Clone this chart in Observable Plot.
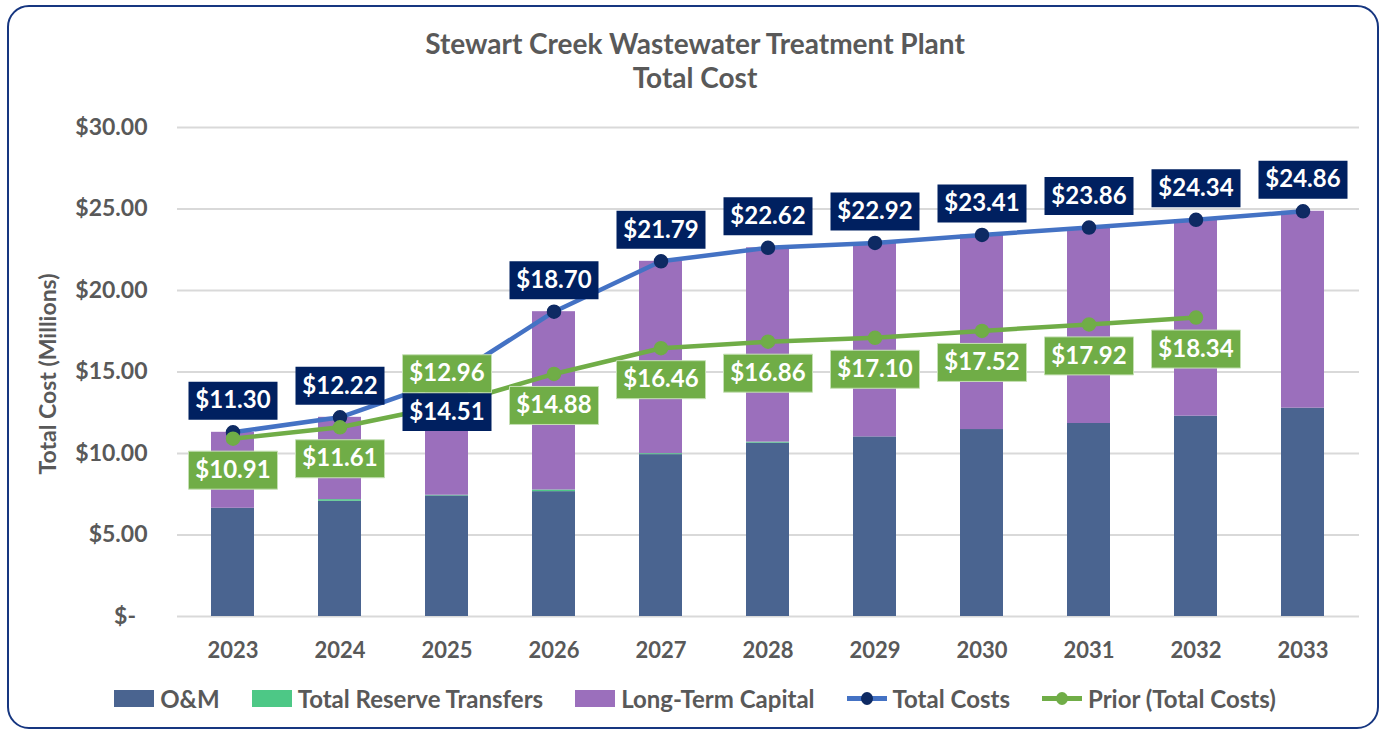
<!DOCTYPE html>
<html>
<head>
<meta charset="utf-8">
<script src="https://cdn.jsdelivr.net/npm/d3@7"></script>
<script src="https://cdn.jsdelivr.net/npm/@observablehq/plot@0.6"></script>
<style>
  html, body { margin: 0; padding: 0; background: #fff; }
  body { width: 1390px; height: 732px; position: relative; overflow: hidden; font-family: Lato, "Open Sans", sans-serif; }
  #frame { position: absolute; left: 7px; top: 5px; width: 1372px; height: 724px; border: 2px solid #163680; border-radius: 22px; box-sizing: border-box; }
  #title { position: absolute; left: 0; width: 1390px; top: 26px; text-align: center; font-weight: bold; font-size: 28px; line-height: 34px; color: #595959; }
  #ylabel { position: absolute; left: 47px; top: 374px; transform: translate(-50%, -50%) rotate(-90deg); white-space: nowrap; font-weight: bold; font-size: 23px; color: #595959; }
  #chart { position: absolute; left: 0; top: 100px; }
  #legend { position: absolute; left: 0; width: 1390px; top: 684px; display: flex; justify-content: center; gap: 32px; font-weight: bold; font-size: 24px; color: #595959; }
  .item { display: flex; align-items: center; gap: 6px; }
  .sw { width: 40px; height: 17px; }
  .ln { width: 40px; height: 17px; position: relative; }
  .ln .bar { position: absolute; left: 0; right: 0; top: 6px; height: 5px; }
  .ln .pt { position: absolute; left: 14px; top: 2px; width: 12px; height: 13px; border-radius: 50%; }
</style>
</head>
<body>
<div id="frame"></div>
<div id="title">Stewart Creek Wastewater Treatment Plant<br>Total Cost</div>
<div id="ylabel">Total Cost (Millions)</div>
<div id="chart"></div>
<div id="legend">
  <div class="item"><div class="sw" style="background:#4a6490"></div>O&amp;M</div>
  <div class="item"><div class="sw" style="background:#4dc886"></div>Total Reserve Transfers</div>
  <div class="item"><div class="sw" style="background:#9b6fbc"></div>Long-Term Capital</div>
  <div class="item"><div class="ln"><div class="bar" style="background:#4472c4"></div><div class="pt" style="background:#0e2a63"></div></div>Total Costs</div>
  <div class="item"><div class="ln"><div class="bar" style="background:#70ad47"></div><div class="pt" style="background:#70ad47"></div></div>Prior (Total Costs)</div>
</div>
<script>
// ---- data ----
const years = ["2023","2024","2025","2026","2027","2028","2029","2030","2031","2032","2033"];
const om = [6.64, 7.07, 7.40, 7.66, 9.93, 10.64, 11.02, 11.47, 11.84, 12.29, 12.78];
const reserve = [0.00, 0.10, 0.04, 0.10, 0.06, 0.06, 0.00, 0.00, 0.00, 0.00, 0.00];
const capital = [4.66, 5.05, 7.07, 10.94, 11.80, 11.92, 11.90, 11.94, 12.02, 12.05, 12.08];
const totalCosts = [11.30, 12.22, 14.51, 18.70, 21.79, 22.62, 22.92, 23.41, 23.86, 24.34, 24.86];
const priorTotal = [10.91, 11.61, 12.96, 14.88, 16.46, 16.86, 17.10, 17.52, 17.92, 18.34, null];
const seriesNames = ["O&M", "Total Reserve Transfers", "Long-Term Capital"];
const yTicks = [0, 5, 10, 15, 20, 25, 30];

// ---- build tables ----
const stacked = [];
years.forEach((y, i) => {
  stacked.push({year: y, series: seriesNames[0], value: om[i]});
  stacked.push({year: y, series: seriesNames[1], value: reserve[i]});
  stacked.push({year: y, series: seriesNames[2], value: capital[i]});
});
const totals = years.map((y, i) => ({year: y, value: totalCosts[i]}));
const prior = years.map((y, i) => ({year: y, value: priorTotal[i]})).filter(d => d.value != null);

const fmt = v => "$" + v.toFixed(2);
const boxSymbol = {draw(ctx) { ctx.rect(-44.5, -19, 89, 38); }};
// blue labels above, green below, except where the two lines cross (2025), where they swap
const blueDy = d => (d.year === "2025" ? 32 : -31.5);
const greenDy = d => (d.year === "2025" ? -31.5 : 31.5);

function offsetMark(data, dyFn, base) {
  const groups = d3.groups(data, dyFn);
  return groups.map(([dy, rows]) => base(rows, dy));
}

const chart = Plot.plot({
  width: 1390,
  height: 580,
  marginLeft: 177,
  marginRight: 31,
  marginTop: 27,
  marginBottom: 64,
  style: {fontFamily: "Lato, 'Open Sans', sans-serif", fontSize: "22px", fontWeight: "bold", color: "#595959", background: "transparent"},
  x: {domain: years, paddingInner: 0.595, paddingOuter: 0.2975, label: null},
  y: {domain: [0, 30], label: null},
  color: {domain: seriesNames, range: ["#4a6490", "#4dc886", "#9b6fbc"]},
  marks: [
    Plot.gridY(yTicks, {stroke: "#d9d9d9", strokeOpacity: 1, strokeWidth: 2}),
    Plot.axisY({ticks: yTicks, tickSize: 0, tickPadding: 30, label: null, fontSize: 23,
      tickFormat: d => d === 0 ? "$-\u2002" : fmt(d)}),
    Plot.axisX({tickSize: 0, tickPadding: 26, label: null, fontSize: 22}),
    Plot.barY(stacked, {x: "year", y: "value", fill: "series"}),
    Plot.line(totals, {x: "year", y: "value", stroke: "#4472c4", strokeWidth: 4.5}),
    Plot.dot(totals, {x: "year", y: "value", r: 6.5, fill: "#0e2a63", stroke: "#0e2a63"}),
    Plot.line(prior, {x: "year", y: "value", stroke: "#70ad47", strokeWidth: 4.5}),
    Plot.dot(prior, {x: "year", y: "value", r: 6.5, fill: "#70ad47", stroke: "#70ad47"}),
    ...offsetMark(totals, blueDy, (rows, dy) =>
      Plot.dot(rows, {x: "year", y: "value", r: 1, symbol: boxSymbol, fill: "#002060", stroke: "none", dy})),
    ...offsetMark(totals, blueDy, (rows, dy) =>
      Plot.text(rows, {x: "year", y: "value", text: d => fmt(d.value), fill: "white", fontSize: 24, fontWeight: "bold", dy})),
    ...offsetMark(prior, greenDy, (rows, dy) =>
      Plot.dot(rows, {x: "year", y: "value", r: 1, symbol: boxSymbol, fill: "#70ad47", stroke: "#c5e0b4", strokeWidth: 1, dy})),
    ...offsetMark(prior, greenDy, (rows, dy) =>
      Plot.text(rows, {x: "year", y: "value", text: d => fmt(d.value), fill: "white", fontSize: 24, fontWeight: "bold", dy}))
  ]
});
document.getElementById("chart").appendChild(chart);
</script>
</body>
</html>
